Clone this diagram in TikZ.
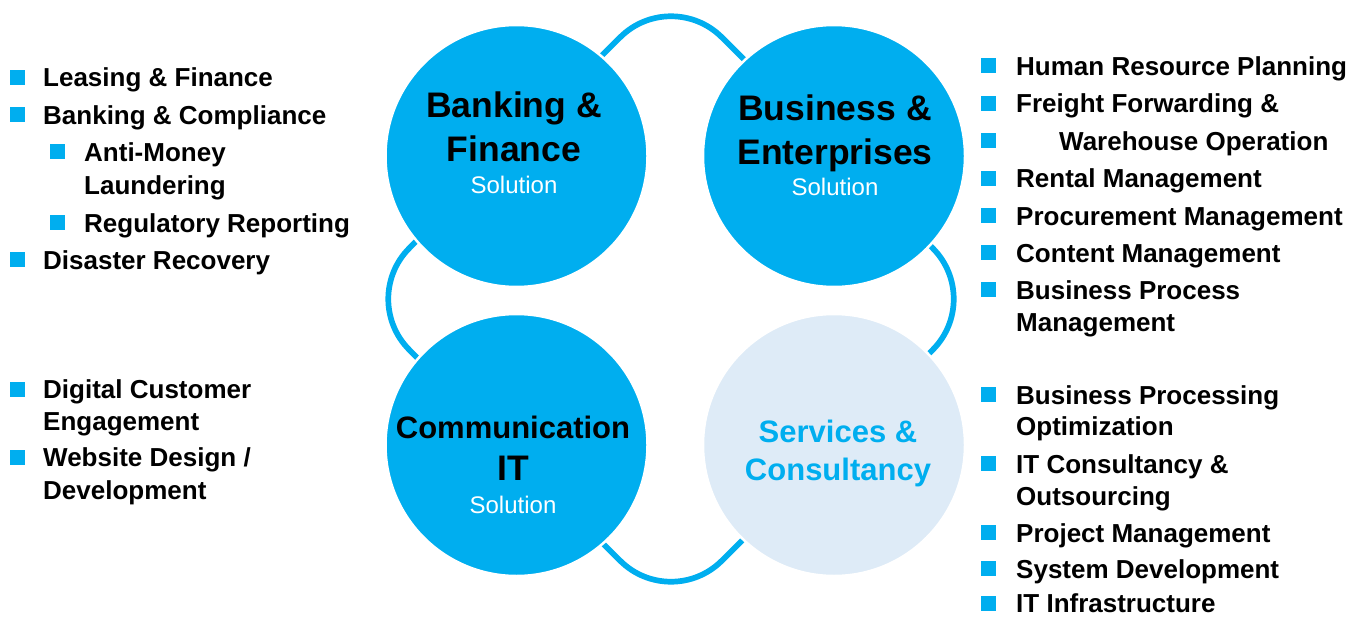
\documentclass[tikz,border=0pt]{standalone}
\usepackage{fontspec}
\setmainfont{Liberation Sans}
\definecolor{skyblue}{RGB}{0,174,239}
\definecolor{paleblue}{RGB}{222,235,247}
\tikzset{
  circ/.style={circle,fill=skyblue,draw=white,line width=2.5pt,minimum size=262pt,inner sep=0},
  linkline/.style={draw=skyblue,line width=5.7pt,fill=white},
  title/.style={font=\bfseries\fontsize{35.5}{40}\selectfont,inner sep=0,anchor=base},
  subtitle/.style={font=\bfseries\fontsize{31}{36}\selectfont,inner sep=0,anchor=base},
  sol/.style={font=\fontsize{24}{28}\selectfont,text=white,inner sep=0,anchor=base},
  item/.style={font=\bfseries\fontsize{26}{30}\selectfont,inner sep=0,anchor=base west},
  bullet/.style={fill=skyblue,minimum size=15pt,inner sep=0}
}
\begin{document}
\begin{tikzpicture}
  [x=1pt,y=-1pt]
  \useasboundingbox (0,0) rectangle (1371,618);

  % the chain behind the circles
  \draw[linkline,shift={(671,299)},rotate=45,rounded corners=72pt]
    (-221,-221) rectangle (221,221);

  \node (bf) [circ] at (516.5,156) {};
  \node (be) [circ] at (834,156) {};
  \node (ci) [circ] at (516.5,445) {};
  \node (sc) [circ,fill=paleblue] at (834,445) {};

  \node (bf1) [title] at (514,117.5) {Banking \&};
  \node (bf2) [title] at (514,161) {Finance};
  \node (bf3) [sol] at (514,193) {Solution};
  \node (be1) [title] at (835,120.5) {Business \&};
  \node (be2) [title] at (835,164) {Enterprises};
  \node (be3) [sol] at (835,195.5) {Solution};
  \node (ci1) [subtitle] at (513,438.5) {Communication};
  \node (ci2) [title] at (513,480) {IT};
  \node (ci3) [sol] at (513,513.5) {Solution};
  \node (sc1) [subtitle,text=skyblue] at (838,442) {Services \&};
  \node (sc2) [subtitle,text=skyblue] at (838,480) {Consultancy};

  % left lists
  \node (leasing) [item] at (43,87) {Leasing \& Finance};
  \node (bankc) [item] at (43,124) {Banking \& Compliance};
  \node (aml) [item] at (84,161) {Anti-Money};
  \node (aml2) [item] at (84,194) {Laundering};
  \node (regrep) [item] at (84,232) {Regulatory Reporting};
  \node (disaster) [item] at (43,269) {Disaster Recovery};
  \node (digital) [item] at (43,398.5) {Digital Customer};
  \node (digital2) [item] at (43,430.5) {Engagement};
  \node (web) [item] at (43,466.5) {Website Design /};
  \node (web2) [item] at (43,499.5) {Development};

  % right lists
  \node (hr) [item] at (1016,75) {Human Resource Planning};
  \node (freight) [item] at (1016,112.5) {Freight Forwarding \&};
  \node (ware) [item] at (1059,150) {Warehouse Operation};
  \node (rental) [item] at (1016,187.5) {Rental Management};
  \node (procure) [item] at (1016,225) {Procurement Management};
  \node (content) [item] at (1016,262) {Content Management};
  \node (bpm) [item] at (1016,299) {Business Process};
  \node (bpm2) [item] at (1016,331) {Management};
  \node (bpo) [item] at (1016,404) {Business Processing};
  \node (bpo2) [item] at (1016,435) {Optimization};
  \node (itc) [item] at (1016,473) {IT Consultancy \&};
  \node (itc2) [item] at (1016,505) {Outsourcing};
  \node (pm) [item] at (1016,542) {Project Management};
  \node (sysdev) [item] at (1016,578) {System Development};
  \node (infra) [item] at (1016,612.5) {IT Infrastructure};

  \foreach \x/\y [count=\i] in {17.5/77.5,17.5/114.5,57.5/151.5,57.5/222.5,17.5/259.5,17.5/389,17.5/457,
      988.5/65.5,988.5/103,988.5/140.5,988.5/178,988.5/215.5,988.5/252.5,988.5/289.5,
      988.5/394.5,988.5/463.5,988.5/532.5,988.5/568.5,988.5/603}
    \node (b\i) [bullet] at (\x,\y) {};

\end{tikzpicture}
\end{document}
